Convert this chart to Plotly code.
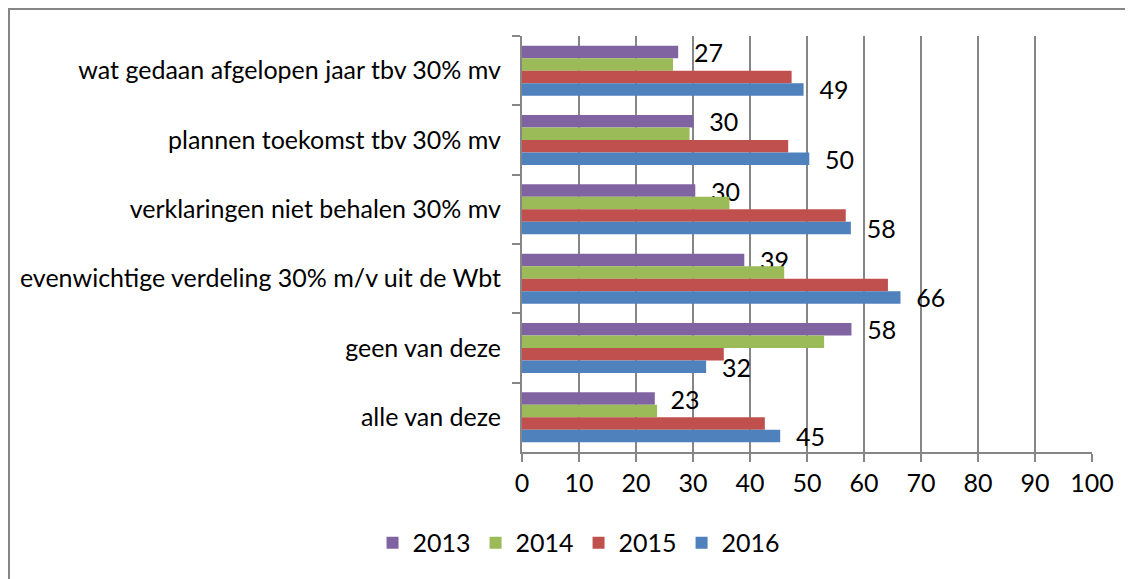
import plotly.graph_objects as go

# categories, top to bottom as shown
categories = [
    "wat gedaan afgelopen jaar tbv 30% mv",
    "plannen toekomst tbv 30% mv",
    "verklaringen niet behalen 30% mv",
    "evenwichtige verdeling 30% m/v uit de Wbt",
    "geen van deze",
    "alle van deze",
]

years = ["2013", "2014", "2015", "2016"]
v2013 = [27.4, 30.1, 30.4, 39.0, 57.8, 23.3]
v2014 = [26.5, 29.4, 36.4, 46.0, 53.0, 23.7]
v2015 = [47.3, 46.7, 56.8, 64.2, 35.4, 42.6]
v2016 = [49.4, 50.4, 57.7, 66.4, 32.3, 45.3]
series = [v2013, v2014, v2015, v2016]
labelled = {"2013", "2016"}  # only these series carry data labels

x_ticks = list(range(0, 101, 10))

COLORS = {"2013": "#8064A2", "2014": "#9BBB59", "2015": "#C0504D", "2016": "#4F81BD"}
AXIS = "#868686"
FONT = "Lato"
FS = 25

fig = go.Figure()
for year, vals in zip(years, series):
    show = year in labelled
    fig.add_trace(go.Bar(
        y=categories, x=vals, name=year, orientation="h",
        marker=dict(color=COLORS[year], line=dict(width=0)),
        text=[f"\u00a0\u00a0{v:.0f}" for v in vals] if show else None,
        textposition="outside" if show else "none",
        textfont=dict(family=FONT, size=FS, color="black"),
        constraintext="none", cliponaxis=False,
    ))

fig.update_layout(
    width=1133, height=579,
    margin=dict(l=514, r=49, t=28, b=135),
    paper_bgcolor="white", plot_bgcolor="white",
    font=dict(family=FONT, size=FS, color="black"),
    barmode="group", bargap=0.28, bargroupgap=0,
    showlegend=True,
    legend=dict(orientation="h", x=0.504, xanchor="center", xref="container",
                y=0.076, yanchor="middle", yref="container",
                font=dict(size=FS), itemwidth=30, traceorder="normal"),
)
fig.update_xaxes(
    range=[0, 100], tickvals=x_ticks, showgrid=True, gridcolor=AXIS, gridwidth=1.5,
    showline=True, linecolor=AXIS, linewidth=2, ticks="outside", ticklen=8,
    tickcolor=AXIS, tickwidth=2, zeroline=False, fixedrange=True,
)
fig.update_yaxes(
    autorange="reversed", showline=True, linecolor=AXIS, linewidth=2,
    ticks="outside", ticklen=8, tickcolor=AXIS, tickwidth=2,
    tickson="boundaries", showgrid=False, ticklabelstandoff=14,
)

# outer chart border (runs off the right and bottom edges, as in the source)
fig.add_shape(type="rect", xref="paper", yref="paper",
              x0=-0.9, x1=1.2, y0=-0.5, y1=1.0649,
              line=dict(color=AXIS, width=2), layer="below")

fig.write_html("out.html")
